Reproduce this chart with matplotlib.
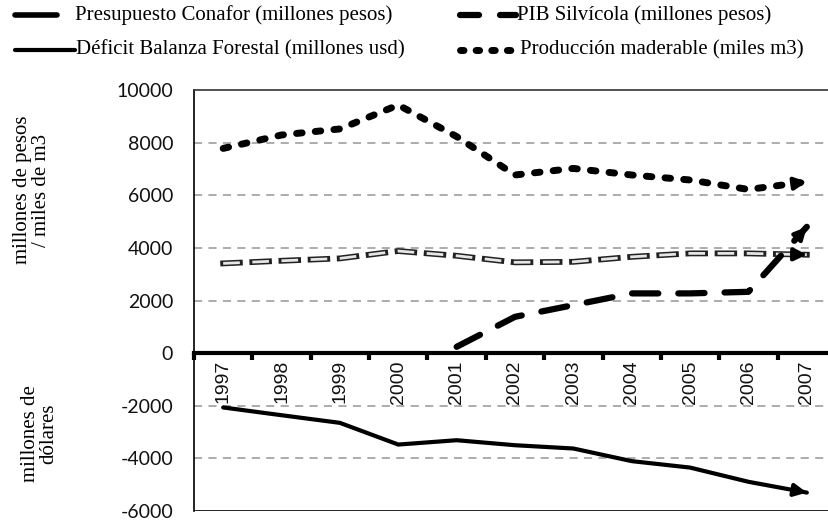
import numpy as np
import matplotlib.pyplot as plt
import matplotlib.patheffects as pe
from matplotlib.lines import Line2D

years = ['1997', '1998', '1999', '2000', '2001', '2002', '2003', '2004', '2005', '2006', '2007']
presupuesto = [3410, 3510, 3600, 3880, 3700, 3450, 3470, 3660, 3790, 3790, 3740]
pib = [np.nan, np.nan, np.nan, np.nan, 240, 1380, 1825, 2270, 2270, 2330, 4800]
deficit = [-2065, -2360, -2650, -3475, -3310, -3500, -3625, -4105, -4350, -4890, -5300]
produccion = [7780, 8290, 8520, 9430, 8230, 6770, 7020, 6770, 6580, 6220, 6510]
yticks = [-6000, -4000, -2000, 0, 2000, 4000, 6000, 8000, 10000]
gridlines = [-4000, -2000, 2000, 4000, 6000, 8000]

SERIF = 'Liberation Serif'

fig = plt.figure(figsize=(8.29, 5.23), dpi=100)
ax = fig.add_axes([194 / 829, 12 / 523, 642 / 829, 421 / 523])
x = np.arange(len(years))

# grid
for g in gridlines:
    ax.axhline(g, color='#a6a6a6', lw=1.3, ls=(0, (4.5, 3.5)), zorder=1)
ax.axhline(-6000, color='black', lw=1.2, zorder=2)

# series
ax.plot(x, produccion, color='black', lw=5, ls=(0, (0.8, 1.9)),
        dash_capstyle='round', zorder=4)
ax.plot(x, presupuesto, color='#e6e6e6', lw=2.0, ls=(0, (6.0, 4.5)),
        dash_capstyle='butt', zorder=4,
        path_effects=[pe.Stroke(linewidth=4.2, foreground='#222222', capstyle='projecting'), pe.Normal()])
ax.plot(x, pib, color='black', lw=4.5, ls=(0, (4.2, 3.2)), dash_capstyle='round', zorder=4)
ax.plot(x, deficit, color='black', lw=3, solid_capstyle='round', zorder=4)

# arrow heads at the end of each series
for s in [produccion, presupuesto, pib, deficit]:
    x1, y1 = x[-1], s[-1]
    x0, y0 = x[-2], s[-2]
    f = 0.12
    ax.annotate('', xy=(x1, y1), xytext=(x1 - f * (x1 - x0), y1 - f * (y1 - y0)),
                arrowprops=dict(arrowstyle='-|>', color='black', lw=3,
                                mutation_scale=18, shrinkA=0, shrinkB=0),
                zorder=5)

ax.set_xlim(-0.5, len(years) - 0.5)
ax.set_ylim(-6000, 10000)

# axes
ax.spines['right'].set_visible(False)
ax.spines['top'].set_color('#333333')
ax.spines['top'].set_linewidth(1.2)
ax.spines['left'].set_color('black')
ax.spines['left'].set_linewidth(1.2)
ax.spines['bottom'].set_position(('data', 0))
ax.spines['bottom'].set_linewidth(3)
ax.spines['bottom'].set_zorder(3)

ax.set_xticks(np.arange(-0.5, len(years), 1))
ax.set_xticklabels([])
ax.set_xticks(x, minor=True)
ax.set_xticklabels(years, minor=True, rotation=90, fontsize=14,
                   family='Liberation Sans', va='top', color='#111111')
ax.tick_params(axis='x', which='major', direction='out', length=5, width=3)
ax.tick_params(axis='x', which='minor', length=0, pad=5)

ax.set_yticks(yticks)
ax.set_yticklabels([str(v) for v in yticks], fontsize=14, family='Lato', color='#111111')
ax.tick_params(axis='y', length=0, pad=15)

# axis titles
fig.text(32 / 829, 1 - 190 / 523, 'millones de pesos\n/ miles de m3', rotation=90,
         ha='center', va='center', fontsize=15, family=SERIF, linespacing=0.95)
fig.text(40 / 829, 1 - 434 / 523, 'millones de\ndólares', rotation=90,
         ha='center', va='center', fontsize=15, family=SERIF, linespacing=0.95)

# legend drawn by hand
def legend_line(x0, x1, y, **kw):
    yy = 1 - y / 523
    fig.add_artist(Line2D([x0 / 829, x1 / 829], [yy, yy], color='black', **kw))

def legend_text(tx, y, label):
    fig.text(tx / 829, 1 - y / 523, label, fontsize=15, family=SERIF, va='center', ha='left')

legend_line(15, 57, 15, lw=4, solid_capstyle='round')
legend_text(75, 15, 'Presupuesto Conafor (millones pesos)')

legend_line(460, 479, 15, lw=4.5, solid_capstyle='round')
legend_line(500, 516, 15, lw=4.5, solid_capstyle='round')
legend_text(517, 15, 'PIB Silvícola (millones pesos)')

legend_line(15, 75, 50, lw=3, solid_capstyle='round')
legend_text(76, 50, 'Déficit Balanza Forestal (millones usd)')

legend_line(460, 516, 50, lw=5, ls=(0, (0.5, 1.75)), dash_capstyle='round')
legend_text(520, 50, 'Producción maderable (miles m3)')

fig.savefig('out.png', dpi=100)
